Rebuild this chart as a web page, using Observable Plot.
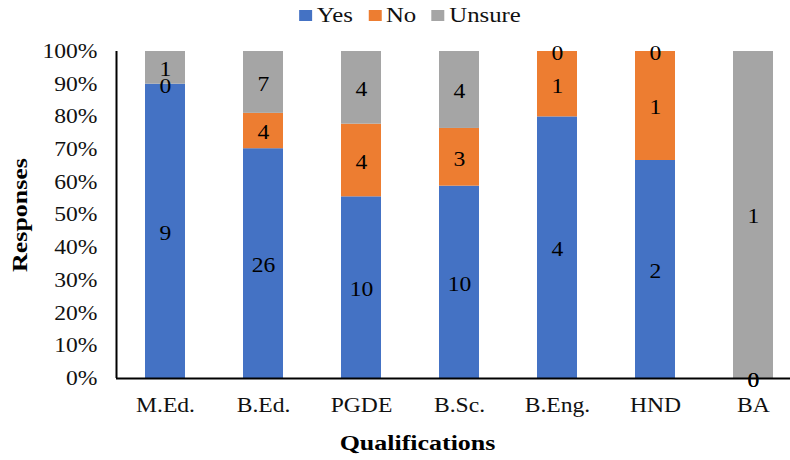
<!DOCTYPE html>
<html>
<head>
<meta charset="utf-8">
<script src="https://cdn.jsdelivr.net/npm/d3@7"></script>
<script src="https://cdn.jsdelivr.net/npm/@observablehq/plot@0.6"></script>
<style>
  body { margin: 0; background: #fff; }
  #wrap { position: relative; width: 790px; height: 460px; }
  #wrap, #wrap svg, #wrap svg text { font-family: 'Liberation Serif', 'Times New Roman', Times, serif !important; }
  #legend { position: absolute; top: 3px; left: 410px; display: flex; align-items: center; gap: 13px; font-size: 21px; color: #111; white-space: nowrap; transform: translateX(-50%) scaleX(1.18); transform-origin: center; }
  #legend span.item { display: flex; align-items: center; }
  #legend span.sw { display: inline-block; width: 11px; height: 11px; margin-right: 4px; }
</style>
</head>
<body>
<div id="wrap"><div id="legend"></div></div>
<script>
const categories = ["M.Ed.", "B.Ed.", "PGDE", "B.Sc.", "B.Eng.", "HND", "BA"];
const seriesNames = ["Yes", "No", "Unsure"];
const yesValues = [9, 26, 10, 10, 4, 2, 0];
const noValues = [0, 4, 4, 3, 1, 1, 0];
const unsureValues = [1, 7, 4, 4, 0, 0, 1];
const colors = ["#4472C4", "#ED7D31", "#A5A5A5"];
const yTicks = [0, 0.1, 0.2, 0.3, 0.4, 0.5, 0.6, 0.7, 0.8, 0.9, 1];

const seriesValues = [yesValues, noValues, unsureValues];
const data = [];
seriesNames.forEach((s, i) => categories.forEach((c, j) => data.push({cat: c, series: s, value: seriesValues[i][j]})));

const chart = Plot.plot({
  width: 790,
  height: 460,
  marginTop: 51,
  marginBottom: 82,
  marginLeft: 116,
  marginRight: -12,
  style: {fontSize: "20px", color: "#111", background: "transparent"},
  x: {domain: categories, paddingInner: 0.59, paddingOuter: 0.295, label: null},
  y: {domain: [0, 1], label: null},
  color: {domain: seriesNames, range: colors},
  marks: [
    Plot.barY(data, Plot.stackY({x: "cat", y: "value", z: "series", fill: "series", order: seriesNames, offset: "normalize"})),
    Plot.text(data, Plot.stackY({x: "cat", y: "value", z: "series", order: seriesNames, offset: "normalize", text: d => String(d.value), fill: "#000", fontSize: 20, dy: 2})),
    Plot.axisY({ticks: yTicks, tickFormat: d => Math.round(d * 100) + "%", tickSize: 0, tickPadding: 19, fontSize: 20, fill: "#111", label: null}),
    Plot.axisX({tickSize: 0, tickPadding: 19, fontSize: 20, fill: "#111", label: null}),
    Plot.ruleY([0], {stroke: "#000", strokeWidth: 2}),
    Plot.ruleX([0], {x: () => categories[0], dx: -49, y1: 0, y2: 1, stroke: "#000", strokeWidth: 2}),
    Plot.text(["Qualifications"], {frameAnchor: "bottom", dx: -42, dy: 71, text: d => d, fontSize: 22, fontWeight: "bold", fill: "#000"}),
    Plot.text(["Responses"], {frameAnchor: "left", textAnchor: "middle", dx: -97, rotate: -90, text: d => d, fontSize: 22, fontWeight: "bold", fill: "#000"})
  ]
});
document.getElementById("wrap").appendChild(chart);

// the reference's lettering is horizontally widened; stretch each text about its anchor
const STRETCH = 1.18;
chart.querySelectorAll("text").forEach(t => {
  const tr = t.getAttribute("transform");
  if (tr) {
    t.setAttribute("transform", tr + ` scale(${STRETCH},1)`);
  } else {
    const x = +t.getAttribute("x") || 0, y = +t.getAttribute("y") || 0;
    t.setAttribute("transform", `translate(${x},${y}) scale(${STRETCH},1) translate(${-x},${-y})`);
  }
});

const legend = document.getElementById("legend");
seriesNames.forEach((s, i) => {
  const item = document.createElement("span");
  item.className = "item";
  const sw = document.createElement("span");
  sw.className = "sw";
  sw.style.background = colors[i];
  item.appendChild(sw);
  item.appendChild(document.createTextNode(s));
  legend.appendChild(item);
});
</script>
</body>
</html>
